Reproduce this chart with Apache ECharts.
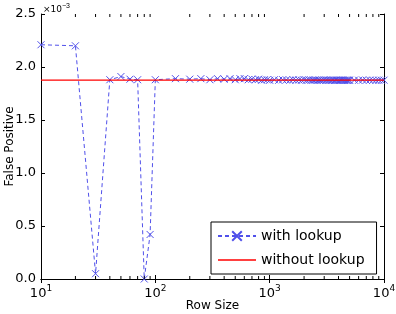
<!DOCTYPE html>
<html>
<head>
<meta charset="utf-8">
<script src="https://cdn.jsdelivr.net/npm/echarts@6/dist/echarts.min.js"></script>
<style>
  html, body { margin: 0; padding: 0; background: #fff; }
  #chart { width: 396px; height: 314px; }
</style>
</head>
<body>
<div id="chart"></div>
<script>
// row sizes (x), false positive rate in units of 1e-3 (y)
var rowSizes = [
  10, 20, 30, 40, 50, 60, 70, 80, 90, 100,
  150, 200, 250, 300, 350, 400, 450, 500, 550, 600, 650, 700, 750, 800, 850, 900, 950, 1000,
  1100, 1200, 1300, 1400, 1500, 1600, 1700, 1800, 1900, 2000,
  2100, 2200, 2300, 2400, 2500, 2600, 2700, 2800, 2900, 3000,
  3100, 3200, 3300, 3400, 3500, 3600, 3700, 3800, 3900, 4000,
  4100, 4200, 4300, 4400, 4500, 4600, 4700, 4800, 4900, 5000,
  5500, 6000, 6500, 7000, 7500, 8000, 8500, 9000, 9500, 10000
];
var withLookup = [
  2.21, 2.20, 0.05, 1.88, 1.91, 1.885, 1.88, 0.0, 0.42, 1.88,
  1.89, 1.885, 1.89, 1.88, 1.89, 1.885, 1.89, 1.88, 1.89, 1.89, 1.88, 1.885, 1.88, 1.885, 1.875, 1.88, 1.88, 1.875,
  1.88, 1.875, 1.88, 1.878, 1.875, 1.88, 1.876, 1.878, 1.875, 1.88,
  1.876, 1.878, 1.874, 1.876, 1.878, 1.875, 1.877, 1.874, 1.876, 1.878,
  1.875, 1.877, 1.874, 1.876, 1.875, 1.877, 1.874, 1.876, 1.875, 1.876,
  1.874, 1.876, 1.875, 1.877, 1.874, 1.876, 1.875, 1.874, 1.876, 1.875,
  1.876, 1.875, 1.877, 1.875, 1.876, 1.875, 1.874, 1.876, 1.875, 1.876
];
var withoutLookup = 1.876;
var xRange = [10, 10000];
var minorTicks = [20, 30, 40, 50, 60, 70, 80, 90, 200, 300, 400, 500, 600, 700, 800, 900,
  2000, 3000, 4000, 5000, 6000, 7000, 8000, 9000];

var FONT = 'DejaVu Sans';
var BLUE = '#5050ea';
var chart = echarts.init(document.getElementById('chart'));

var xLabel = function (v) {
  return '10{sup|' + Math.round(Math.log10(v)) + '}';
};

chart.setOption({
  animation: false,
  backgroundColor: '#fff',
  textStyle: { fontFamily: FONT },
  grid: { left: 41, right: 12, top: 14, bottom: 35, outerBoundsMode: 'none', containLabel: false },
  xAxis: [
    {
      type: 'log', logBase: 10, min: xRange[0], max: xRange[1],
      name: 'Row Size', nameLocation: 'middle', nameGap: 21, nameMoveOverlap: false,
      nameTextStyle: { fontSize: 12, color: '#000', fontFamily: FONT, verticalAlign: 'top' },
      axisLine: { lineStyle: { color: '#000', width: 1 } },
      axisTick: { inside: true, length: 4, lineStyle: { color: '#000' } },
      axisLabel: {
        formatter: xLabel, color: '#000', fontSize: 13, margin: 5,
        rich: { sup: { fontSize: 9, padding: [0, 0, 10, 0], color: '#000' } }
      },
      splitLine: { show: false }
    },
    {
      type: 'log', logBase: 10, min: xRange[0], max: xRange[1], position: 'top',
      axisLine: { lineStyle: { color: '#000', width: 1 } },
      axisTick: { inside: true, length: 4, lineStyle: { color: '#000' } },
      axisLabel: { show: false },
      splitLine: { show: false }
    }
  ],
  yAxis: [
    {
      type: 'value', min: 0, max: 2.5, interval: 0.5,
      name: 'False Positive', nameLocation: 'middle', nameGap: 25, nameMoveOverlap: false,
      nameTextStyle: { fontSize: 12, color: '#000', fontFamily: FONT },
      axisLine: { show: true, lineStyle: { color: '#000', width: 1 } },
      axisTick: { show: true, inside: true, length: 4, lineStyle: { color: '#000' } },
      axisLabel: { formatter: function (v) { return v.toFixed(1); }, color: '#000', fontSize: 13, margin: 5 },
      splitLine: { show: false }
    },
    {
      type: 'value', min: 0, max: 2.5, interval: 0.5, position: 'right',
      axisLine: { show: true, lineStyle: { color: '#000', width: 1 } },
      axisTick: { show: true, inside: true, length: 4, lineStyle: { color: '#000' } },
      axisLabel: { show: false },
      splitLine: { show: false }
    }
  ],
  legend: {
    orient: 'vertical', left: 211, top: 222,
    backgroundColor: '#fff', borderColor: '#000', borderWidth: 1,
    padding: [7, 12, 7, 6], itemGap: 10, itemWidth: 38, itemHeight: 12,
    textStyle: { fontSize: 14, color: '#000', fontFamily: FONT },
    data: [
      { name: 'with lookup' },
      { name: 'without lookup', icon: 'path://M0,0L38,0L38,1.3L0,1.3Z', itemStyle: { color: '#ff0000' } }
    ]
  },
  series: [
    {
      name: 'minor', type: 'custom', silent: true, clip: false, z: 10,
      data: minorTicks.map(function (v) { return [v, 2.5]; }),
      renderItem: function (params, api) {
        var t = api.coord([api.value(0), 2.5]);
        var bottom = params.coordSys.y + params.coordSys.height;
        var st = { stroke: '#000', lineWidth: 1 };
        return {
          type: 'group', children: [
            { type: 'line', shape: { x1: t[0], y1: bottom, x2: t[0], y2: bottom - 3 }, style: st },
            { type: 'line', shape: { x1: t[0], y1: t[1], x2: t[0], y2: t[1] + 3 }, style: st }
          ]
        };
      }
    },
    {
      name: 'with lookup', type: 'line',
      data: rowSizes.map(function (x, i) { return [x, withLookup[i]]; }),
      symbol: 'path://M0,0L10,10M10,0L0,10',
      symbolSize: 7,
      itemStyle: { color: 'rgba(0,0,0,0)', borderColor: BLUE, borderWidth: 1 },
      lineStyle: { color: BLUE, width: 1, type: [4, 3] },
      z: 3
    },
    {
      name: 'without lookup', type: 'line',
      data: [[xRange[0], withoutLookup], [xRange[1], withoutLookup]],
      symbol: 'none', color: '#ff0000',
      lineStyle: { color: '#ff0000', width: 1.3 },
      z: 4
    }
  ],
  graphic: [
    {
      type: 'text', left: 43, top: 3,
      style: { text: '\u00d710{s|\u22123}', fill: '#000', fontSize: 9, fontFamily: FONT,
        rich: { s: { fontSize: 7, padding: [0, 0, 6, 0] } } }
    }
  ]
});
</script>
</body>
</html>
